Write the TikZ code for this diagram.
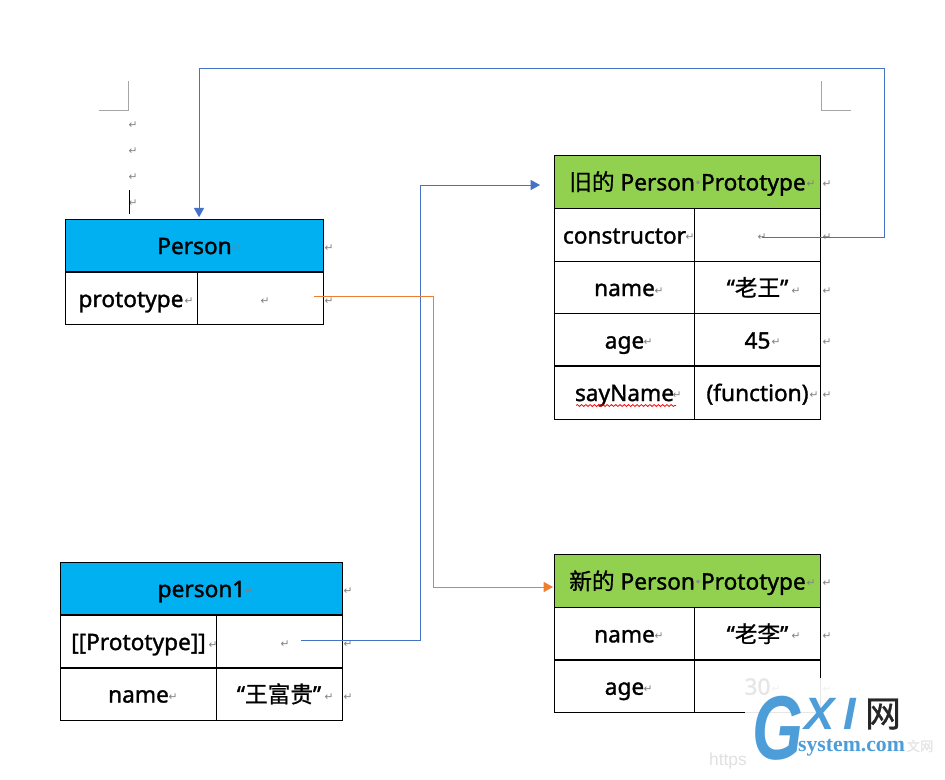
\documentclass[tikz,border=0pt]{standalone}
\usepackage{fontspec}
\setmainfont{Noto Sans}
\newfontfamily\cellfont[FakeBold=1.4]{Noto Sans}
\newfontfamily\cjk[FakeBold=.8]{Noto Sans CJK SC}
\newfontfamily\retfont{DejaVu Sans}
\newfontfamily\wmserif{Liberation Serif}
\newfontfamily\wmsans{Liberation Sans}
\usetikzlibrary{arrows.meta,decorations.pathmorphing}
\definecolor{headblue}{HTML}{00B0F0}
\definecolor{headgreen}{HTML}{92D050}
\definecolor{linkblue}{HTML}{4472C4}
\definecolor{linkorange}{HTML}{ED7D31}
\definecolor{wmblue}{HTML}{4D9DD8}
\tikzset{
  cell/.style={draw=black,line width=.75pt,inner sep=0pt,text height=14.8pt,text depth=2pt,font=\cellfont\fontsize{17pt}{18pt}\selectfont},
  retmark/.style={text=black!50,inner sep=0pt,font=\retfont\fontsize{8pt}{9pt}\selectfont},
  bluelink/.style={draw=linkblue,line width=.75pt},
  orangelink/.style={draw=linkorange,line width=.75pt},
  croplink/.style={draw=black!35,line width=.75pt},
  bigtip/.style={-{Triangle[length=7pt,width=7.5pt]}}
}
\begin{document}
\begin{tikzpicture}[x=.75pt,y=-.75pt]
\useasboundingbox (0,0) rectangle (945,779);
% Person
\node[cell,fill=headblue,minimum width=193.9pt,minimum height=39.6pt] (personHead) at (194.5,245.5) {Person};
\node[cell,minimum width=99pt,minimum height=39.4pt] (personKey) at (131,298.5) {prototype};
\node[cell,minimum width=94.9pt,minimum height=39.4pt] (personVal) at (260.3,298.5) {};
% person1
\node[cell,fill=headblue,minimum width=210.8pt,minimum height=39.6pt] (oneHead) at (201.5,588.5) {person1};
\node[cell,minimum width=116.3pt,minimum height=39.6pt] (oneKeyA) at (138.5,641.5) {[[Prototype]]};
\node[cell,minimum width=94.5pt,minimum height=39.6pt] (oneValA) at (279,641.5) {};
\node[cell,minimum width=116.3pt,minimum height=39pt] (oneKeyB) at (138.5,694) {name};
\node[cell,minimum width=94.5pt,minimum height=39pt] (oneValB) at (279,694) {“{\cjk 王富贵}”};
% old prototype
\node[cell,fill=headgreen,minimum width=199.5pt,minimum height=40pt] (oldHead) at (687.5,181.8) {{\cjk 旧的} Person{\color{black!45}·}Prototype};
\node[cell,minimum width=105pt,minimum height=39.4pt] (oldKeyA) at (624.5,235) {constructor};
\node[cell,minimum width=94.5pt,minimum height=39.4pt] (oldValA) at (757.5,235) {};
\node[cell,minimum width=105pt,minimum height=39.4pt] (oldKeyB) at (624.5,287.5) {name};
\node[cell,minimum width=94.5pt,minimum height=39.4pt] (oldValB) at (757.5,287.5) {“{\cjk 老王}”};
\node[cell,minimum width=105pt,minimum height=39.4pt] (oldKeyC) at (624.5,340) {age};
\node[cell,minimum width=94.5pt,minimum height=39.4pt] (oldValC) at (757.5,340) {45};
\node[cell,minimum width=105pt,minimum height=39.8pt] (oldKeyD) at (624.5,392.5) {sayName};
\node[cell,minimum width=94.5pt,minimum height=39.8pt] (oldValD) at (757.5,392.5) {(function)};
% new prototype
\node[cell,fill=headgreen,minimum width=199.5pt,minimum height=39.8pt] (newHead) at (687.5,581) {{\cjk 新的} Person{\color{black!45}·}Prototype};
\node[cell,minimum width=105pt,minimum height=39.4pt] (newKeyA) at (624.5,633.8) {name};
\node[cell,minimum width=94.5pt,minimum height=39.4pt] (newValA) at (757.5,633.8) {“{\cjk 老李}”};
\node[cell,minimum width=105pt,minimum height=39.4pt] (newKeyB) at (624.5,686.2) {age};
\node[cell,minimum width=94.5pt,minimum height=39.4pt] (newValB) at (757.5,686.2) {30};
% paragraph marks
\foreach \px/\py [count=\i] in {133/125,133/151,133/177,133/203,236/248,329/248,189/301,265/301,329/301,
  249/591,348/591,213/645,285/644,348/644,173/697,329/697,348/697,
  811/184,827/184,690/237,762/237,827/237,659/291,796/291,827/291,648/342,776/342,827/342,677/395,814/395,827/395,
  811/583,827/583,659/636,796/636,827/636,648/689,776/689,827/689}
  \node[retmark] (mark\i) at (\px,\py) {↵};
% page corners and cursor
\coordinate (cropA) at (99,110);
\coordinate (cropB) at (128.5,110);
\coordinate (cropC) at (128.5,81);
\coordinate (cropD) at (821.5,81);
\coordinate (cropE) at (821.5,110);
\coordinate (cropF) at (851,110);
\draw[croplink] (cropA) -- (cropB) -- (cropC);
\draw[croplink] (cropD) -- (cropE) -- (cropF);
\coordinate (caretTop) at (129,190);
\coordinate (caretEnd) at (129,214);
\draw[black,line width=.75pt] (caretTop) -- (caretEnd);
% spelling squiggle
\coordinate (wavyA) at (576,405.5);
\coordinate (wavyB) at (676,405.5);
\draw[red,line width=.6pt,decorate,decoration={snake,amplitude=.7pt,segment length=3.2pt}] (wavyA) -- (wavyB);
% connectors
\coordinate (ctorStart) at (762,237);
\coordinate (topCorner) at (884,68);
\draw[bluelink,bigtip,shorten >=1pt] (ctorStart) -| (topCorner) -| ([xshift=3.4pt]personHead.north);
\coordinate (oneStart) at (301,640);
\coordinate (blueBend) at (420,185);
\coordinate (oldEnd) at (540,185);
\draw[bluelink,bigtip] (oneStart) -| (blueBend) -- (oldEnd);
\coordinate (protoStart) at (314,296);
\coordinate (orangeBend) at (433,587);
\coordinate (newEnd) at (553,587);
\draw[orangelink,bigtip] (protoStart) -| (orangeBend) -- (newEnd);
% watermark
\fill[white,opacity=.9] (745,678) rectangle (945,779);
\node[inner sep=0pt,text=black!12,font=\wmsans\fontsize{13pt}{14pt}\selectfont] (wmUrl) at (728,761) {https};
\node[inner sep=0pt,text=black!10,font=\cjk\fontsize{10pt}{11pt}\selectfont] (wmCn) at (920,746) {文网};
\node[inner sep=0pt,text=wmblue,font=\wmsans\bfseries\itshape\fontsize{68pt}{68pt}\selectfont] (wmG) at (778,728) {\scalebox{.72}[1]{G}};
\node[inner sep=0pt,text=wmblue,font=\wmsans\bfseries\itshape\fontsize{34pt}{34pt}\selectfont] (wmX) at (820,714) {X};
\node[inner sep=0pt,text=wmblue,font=\wmsans\bfseries\itshape\fontsize{34pt}{34pt}\selectfont] (wmI) at (850,714) {I};
\node[inner sep=0pt,text=black!85,font=\cjk\fontsize{27pt}{27pt}\selectfont] (wmNet) at (883,714) {网};
\node[inner sep=0pt,text=wmblue,font=\wmserif\bfseries\fontsize{16.3pt}{17pt}\selectfont] (wmSite) at (851.5,748) {system.com};
\end{tikzpicture}
\end{document}
